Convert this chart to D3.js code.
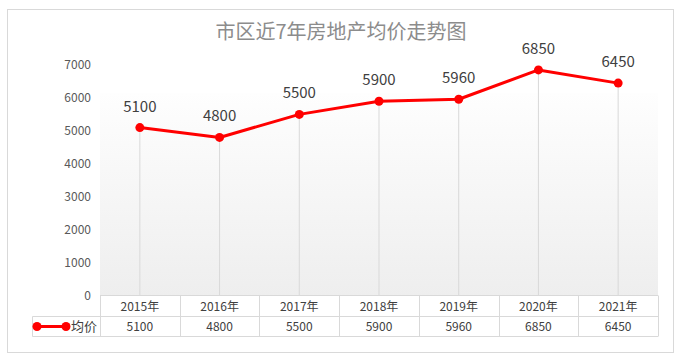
<!DOCTYPE html>
<html><head><meta charset="utf-8">
<script src="https://cdn.jsdelivr.net/npm/d3@7/dist/d3.min.js"></script>
<style>body{margin:0;background:#fff;}svg{display:block;font-family:"Noto Sans CJK SC","Noto Sans",sans-serif;}</style>
</head><body>
<script>
const title = "市区近7年房地产均价走势图";
const categories = ["2015年","2016年","2017年","2018年","2019年","2020年","2021年"];
const seriesName = "均价";
const values = [5100,4800,5500,5900,5960,6850,6450];
const yTicks = [0,1000,2000,3000,4000,5000,6000,7000];

const W = 684, H = 361;
const svg = d3.select("body").append("svg").attr("width", W).attr("height", H);

// chart border
svg.append("rect").attr("x",7.5).attr("y",9.5).attr("width",666).attr("height",343)
  .attr("fill","#fff").attr("stroke","#d9d9d9").attr("stroke-width",1);

const left = 100, right = 658, top0 = 65, bottom = 295.5;
const x = d3.scaleBand().domain(categories).range([left,right]).padding(0);
const y = d3.scaleLinear().domain([0,7000]).range([bottom, top0]);

// gradient plot background
const defs = svg.append("defs");
const g = defs.append("linearGradient").attr("id","bg").attr("x1",0).attr("y1",0).attr("x2",0).attr("y2",1);
g.append("stop").attr("offset","0%").attr("stop-color","#fefefe");
g.append("stop").attr("offset","100%").attr("stop-color","#eeeeee");
svg.append("rect").attr("x",left).attr("y",93).attr("width",right-left).attr("height",bottom-93).attr("fill","url(#bg)");

// title
svg.append("text").attr("x",341).attr("y",39).attr("text-anchor","middle")
  .attr("font-size",20).attr("fill","#8c8c8c").text(title);

// y axis
const yAxis = d3.axisLeft(y).tickValues(yTicks).tickFormat(d3.format("d")).tickSize(0).tickPadding(0);
const ya = svg.append("g").attr("transform",`translate(91,0)`).call(yAxis);
ya.select(".domain").remove();
ya.selectAll("text").attr("font-size",12).attr("fill","#595959").attr("font-family",'"Noto Sans CJK SC",sans-serif');

// drop lines
const cx = d => x(d) + x.bandwidth()/2;
svg.append("g").selectAll("line").data(categories).join("line")
  .attr("x1",d=>cx(d)).attr("x2",d=>cx(d))
  .attr("y1",(d,i)=>y(values[i])).attr("y2",bottom)
  .attr("stroke","#d9d9d9").attr("stroke-width",1);

// line
const line = d3.line().x((d,i)=>cx(categories[i])).y(d=>y(d));
svg.append("path").datum(values).attr("d",line).attr("fill","none")
  .attr("stroke","#ff0000").attr("stroke-width",3).attr("stroke-linejoin","round");
svg.append("g").selectAll("circle").data(values).join("circle")
  .attr("cx",(d,i)=>cx(categories[i])).attr("cy",d=>y(d)).attr("r",4.5).attr("fill","#ff0000");

// data labels
svg.append("g").selectAll("text").data(values).join("text")
  .attr("x",(d,i)=>cx(categories[i])).attr("y",d=>y(d)-16)
  .attr("text-anchor","middle").attr("font-size",15).attr("fill","#404040").text(d=>d);

// data table
const tb = svg.append("g").attr("stroke","#d9d9d9").attr("stroke-width",1).attr("fill","none");
const r0 = 295.5, r1 = 316.5, r2 = 336.5, legL = 32.5;
tb.append("line").attr("x1",left).attr("x2",right).attr("y1",r0).attr("y2",r0);
tb.append("line").attr("x1",legL).attr("x2",right).attr("y1",r1).attr("y2",r1);
tb.append("line").attr("x1",legL).attr("x2",right).attr("y1",r2).attr("y2",r2);
tb.append("line").attr("x1",legL).attr("x2",legL).attr("y1",r1).attr("y2",r2);
const edges = categories.map(d=>x(d)).concat([right]);
tb.selectAll(".v").data(edges).join("line").attr("class","v")
  .attr("x1",d=>Math.round(d)+0.5).attr("x2",d=>Math.round(d)+0.5).attr("y1",r0).attr("y2",r2);

svg.append("g").selectAll("text").data(categories).join("text")
  .attr("x",d=>cx(d)).attr("y",311).attr("text-anchor","middle")
  .attr("font-size",12).attr("fill","#404040").text(d=>d);
svg.append("g").selectAll("text").data(values).join("text")
  .attr("x",(d,i)=>cx(categories[i])).attr("y",331).attr("text-anchor","middle")
  .attr("font-size",12).attr("fill","#404040").text(d=>d);

// legend key
const ly = 326.5;
svg.append("line").attr("x1",37).attr("x2",66).attr("y1",ly).attr("y2",ly).attr("stroke","#ff0000").attr("stroke-width",3);
svg.append("circle").attr("cx",37).attr("cy",ly).attr("r",4.5).attr("fill","#ff0000");
svg.append("circle").attr("cx",66).attr("cy",ly).attr("r",4.5).attr("fill","#ff0000");
svg.append("text").attr("x",97).attr("y",331).attr("text-anchor","end").attr("font-size",13).attr("fill","#404040").text(seriesName);
</script>
</body></html>
